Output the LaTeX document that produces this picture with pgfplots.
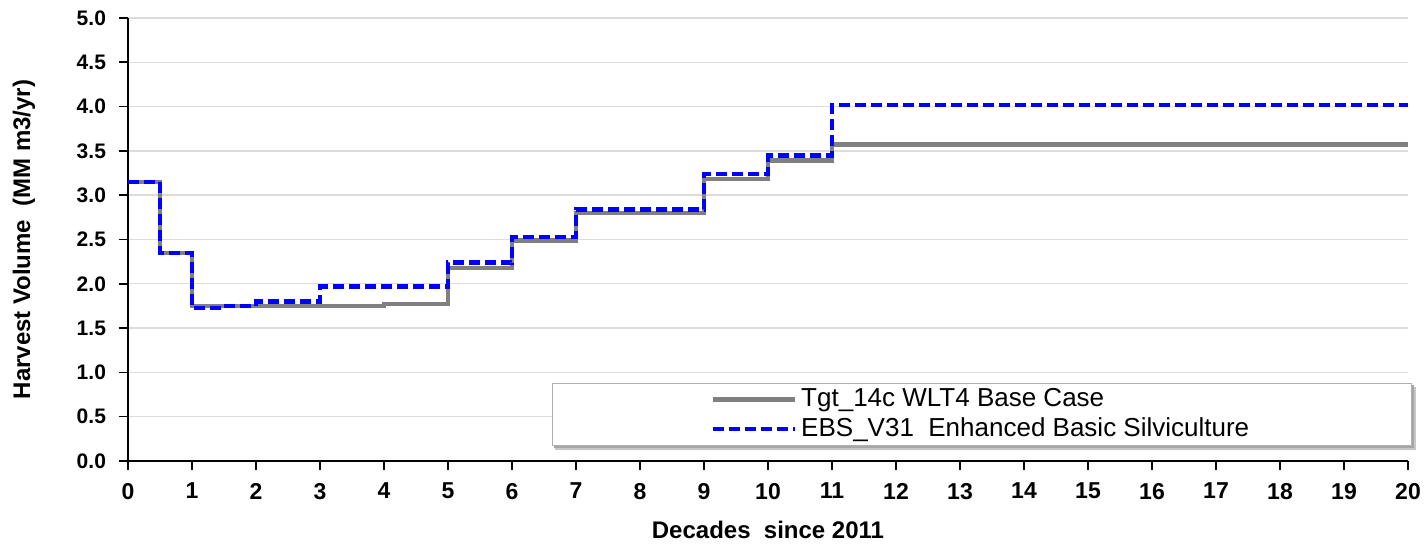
\documentclass[border=0pt]{standalone}
\usepackage{pgfplots}
\pgfplotsset{compat=1.18}
\usepackage{fontspec}
\setmainfont{Liberation Sans}
\usetikzlibrary{backgrounds}
\definecolor{gline}{RGB}{128,128,128}
\definecolor{bline}{RGB}{0,0,255}
\definecolor{gridc}{RGB}{220,220,220}
\begin{document}
\begin{tikzpicture}
\begin{axis}[
  scale only axis, width=640pt, height=221.5pt,
  xmin=0, xmax=20, ymin=0, ymax=5,
  xtick={0,1,...,20}, ytick={0,0.5,...,5},
  axis x line*=bottom, axis y line*=left,
  axis line style={black, line width=0.8pt, -},
  tick style={black, line width=0.8pt},
  tick align=outside, major tick length=4.5pt,
  ymajorgrids, grid style={gridc, line width=0.7pt},
  /pgf/number format/assume math mode=true,
  yticklabel={\pgfmathprintnumber[fixed,fixed zerofill,precision=1,assume math mode=true]{\tick}},
  xticklabel style={font=\fontsize{11.5}{13}\selectfont\bfseries, yshift=-3pt},
  yticklabel style={font=\fontsize{10.5}{12}\selectfont\bfseries, xshift=-3pt},
  xlabel={Decades\ \ since 2011},
  ylabel={Harvest Volume\ \ (MM m3/yr)},
  label style={font=\fontsize{12}{14}\selectfont\bfseries},
  xlabel style={at={(axis description cs:0.5,-0.156)}, anchor=center},
  ylabel style={at={(axis description cs:-0.0813,0.5)}, anchor=center},
  legend cell align=left,
  legend style={name=leg, at={(1.003,0.034)}, anchor=south east, draw=gridc!80!black, line width=0.6pt,
    fill=white, font=\fontsize{13}{15}\selectfont, inner xsep=79pt, inner ysep=0.8pt,
    row sep=0pt, nodes={inner sep=2pt}},
  legend image code/.code={\draw[#1] (0pt,0pt) -- (41pt,0pt);},
  clip=false,
]
\addplot[const plot mark left, gline, line width=2.2pt] coordinates {
 (0,3.15) (0.5,2.35) (1,1.75) (4,1.775) (5,2.18) (6,2.49) (7,2.80) (9,3.18) (10,3.39) (11,3.57) (20,3.57)};
\addlegendentry{Tgt\_14c WLT4 Base Case}
\addplot[const plot mark left, bline, line width=2.2pt, dash pattern=on 5.5pt off 2.5pt] coordinates {
 (0,3.15) (0.5,2.35) (1,1.73) (1.5,1.75) (2,1.80) (3,1.97) (5,2.24) (6,2.53) (7,2.84) (9,3.24) (10,3.45) (11,4.02) (20,4.02)};
\addlegendentry{EBS\_V31\ \ Enhanced Basic Silviculture}
\coordinate (bl) at (rel axis cs:0,0);
\coordinate (tr) at (rel axis cs:1,1);
\end{axis}
\begin{scope}[on background layer]
\fill[black!22] ([xshift=1.5pt,yshift=-2pt]leg.south west) rectangle ([xshift=2pt,yshift=-2pt]leg.north east);
\fill[black!35] ([xshift=1pt,yshift=-1.2pt]leg.south west) rectangle ([xshift=1.2pt,yshift=-1.2pt]leg.north east);
\end{scope}
\pgfresetboundingbox
\path (bl) ++(-64pt,-41.5pt) coordinate (a);
\path (tr) ++(10pt,9pt) coordinate (b);
\useasboundingbox (a) rectangle (b);
\end{tikzpicture}
\end{document}
